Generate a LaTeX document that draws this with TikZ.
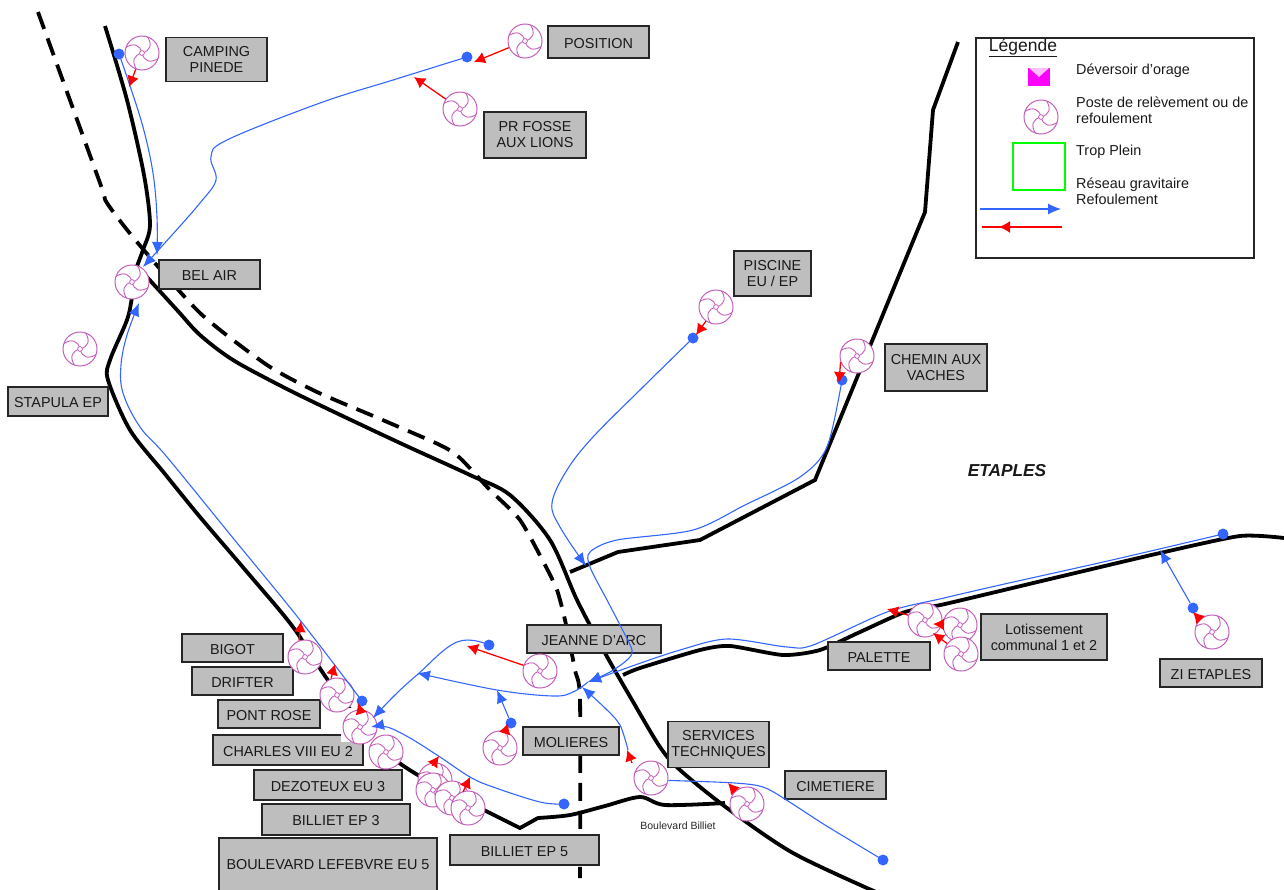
\documentclass[tikz,border=0pt]{standalone}
\usepackage{fontspec}
\setmainfont{Liberation Sans}
\usetikzlibrary{arrows.meta}
\definecolor{pumpcol}{RGB}{196,96,186}
\definecolor{refblue}{RGB}{51,102,255}
\definecolor{labgray}{RGB}{190,190,190}
\definecolor{devcol}{RGB}{255,0,255}
\tikzset{
  road/.style={line width=3.8pt,black},
  droad/.style={road,dash pattern=on 18pt off 10pt},
  lab/.style={draw=black!85,line width=1.2pt,fill=labgray,align=center,inner sep=0pt,text=black!90,
    font=\fontsize{14.4}{16}\selectfont},
  lab1/.style={lab,text height=12.5pt,text depth=0pt},
  pump/.style={circle,draw=pumpcol,line width=1pt,fill=white,inner sep=0pt,minimum size=34pt,
    path picture={
      \draw[pumpcol,line width=.9pt,shift={(path picture bounding box.center)}]
        (0,0) .. controls (-2,-8) and (-8,-11) .. (-17,-5)
        (0,0) .. controls (8,-2) and (11,-8) .. (5,-17)
        (0,0) .. controls (2,8) and (8,11) .. (17,5)
        (0,0) .. controls (-8,2) and (-11,8) .. (-5,17);
      \draw[pumpcol,line width=.8pt,fill=white,shift={(path picture bounding box.center)}] (0,0) circle (2.4);
    }},
  dot/.style={circle,fill=refblue,inner sep=0pt,minimum size=11pt},
  refo/.style={refblue,line width=1.1pt},
  refa/.style={refo,-{Latex[length=13pt,width=11pt]}},
  gravi/.style={red,line width=1.3pt,-{Latex[length=11pt,width=12pt]}},
  legtext/.style={anchor=west,align=left,inner sep=0pt,text=black!90,font=\fontsize{14.4}{16}\selectfont}
}
\begin{document}
\begin{tikzpicture}[x=1pt,y=-1pt]
\useasboundingbox (0,0) rectangle (1284,889);

\draw[road] plot[smooth,tension=.5] coordinates {(105,26) (127,100) (144,175) (150,225) (143,250) (136,270) (132,297) (127,320) (110,360) (108,380) (130,430) (165,474) (200,517) (247,572) (293,627) (330,683) (386,752) (435,785) (478,807) (520,828)} -- plot[smooth,tension=.5] coordinates {(538,818) (570,815) (605,806) (640,797) (665,805) (725,803)};
\draw[road] plot[smooth,tension=.5] coordinates {(136,265) (177,310) (200,335) (233,360) (283,387) (330,410) (400,443) (470,475) (510,495) (550,540) (577,600) (605,653) (632,700) (660,747) (680,770) (727,808) (793,853) (876,892)};
\draw[road] (958,42) -- (933,110) -- (925,212) -- (815,480) -- (700,540) -- (618,552) -- (570,572);
\draw[road] plot[smooth,tension=.4] coordinates {(623,675) (640,668) (700,650) (730,646) (783,655) (820,650) (860,632) (905,612) (945,604) (1050,579) (1160,553) (1240,536) (1284,538)};
\draw[droad] plot[smooth,tension=.4] coordinates {(38,12) (100,183) (107,203) (137,242) (200,313) (267,365) (317,392) (378,418) (440,445) (460,458) (490,490) (520,520) (545,565) (557,590) (565,620) (575,670) (580,700) (580,878)};

\node[lab,minimum width=101pt,minimum height=44pt] (lcamping) at (216.5,59.5) {CAMPING\\PINEDE};
\node[lab1,minimum width=101pt,minimum height=32pt] (lposition) at (598.5,42) {POSITION};
\node[lab,minimum width=102pt,minimum height=46pt] (lfosse) at (535,135) {PR FOSSE\\AUX LIONS};
\node[lab1,minimum width=101pt,minimum height=29pt] (lbelair) at (209.5,274.5) {BEL AIR};
\node[lab1,minimum width=100pt,minimum height=29pt] (lstapula) at (58,401.5) {STAPULA EP};
\node[lab,minimum width=77pt,minimum height=45pt] (lpiscine) at (772.5,273.5) {PISCINE\\EU / EP};
\node[lab,minimum width=102pt,minimum height=47pt] (lchemin) at (936,367.5) {CHEMIN AUX\\VACHES};
\node[lab1,minimum width=134pt,minimum height=28pt] (ljeanne) at (594,639) {JEANNE D'ARC};
\node[lab,minimum width=126pt,minimum height=46pt] (llotis) at (1044,637) {Lotissement\\communal 1 et 2};
\node[lab1,minimum width=102pt,minimum height=28pt] (lpalette) at (879,656) {PALETTE};
\node[lab1,minimum width=102pt,minimum height=28pt] (lzi) at (1211,673) {ZI ETAPLES};
\node[lab1,minimum width=101pt,minimum height=28pt] (lbigot) at (232.5,648) {BIGOT};
\node[lab1,minimum width=101pt,minimum height=28pt] (ldrifter) at (242.5,681) {DRIFTER};
\node[lab1,minimum width=102pt,minimum height=28pt] (lpont) at (269,714) {PONT ROSE};
\node[lab1,minimum width=150pt,minimum height=30pt] (lcharles) at (288,750) {CHARLES VIII EU 2};
\node[lab1,minimum width=148pt,minimum height=30pt] (ldezo) at (328,785) {DEZOTEUX EU 3};
\node[lab1,minimum width=148pt,minimum height=31pt] (lbill3) at (336,819.5) {BILLIET EP 3};
\node[lab,minimum width=218pt,minimum height=54pt] (lboul) at (328,865) {BOULEVARD LEFEBVRE EU 5};
\node[lab1,minimum width=96pt,minimum height=28pt] (lmol) at (571,741) {MOLIERES};
\node[lab,minimum width=101pt,minimum height=46pt] (lserv) at (718.5,744.5) {SERVICES\\TECHNIQUES};
\node[lab1,minimum width=101pt,minimum height=28pt] (lcim) at (835.5,785) {CIMETIERE};
\node[lab1,minimum width=149pt,minimum height=30pt] (lbill5) at (524.5,850) {BILLIET EP 5};

\node[font=\fontsize{17.3}{19}\selectfont\bfseries\itshape,text=black!90] (etaples) at (1007,471) {ETAPLES};
\node[font=\fontsize{10.5}{12}\selectfont,text=black!85] (boulbil) at (678,826) {Boulevard Billiet};

\node[fill=white,minimum width=38pt,minimum height=34pt,inner sep=0pt] (patch) at (360,725) {};

\node[pump] (pcamping) at (142,53) {};
\node[pump] (pposition) at (525,41) {};
\node[pump] (pfosse) at (460,109) {};
\node[pump] (pbelair) at (132,282) {};
\node[pump] (pstapula) at (80,349) {};
\node[pump] (ppiscine) at (716,307) {};
\node[pump] (pchemin) at (857,356) {};
\node[pump] (pjeanne) at (540,671) {};
\node[pump] (pmol) at (500,748) {};
\node[pump] (pbigot) at (305,657) {};
\node[pump] (pdrifter) at (337,695) {};
\node[pump] (ppont) at (360,727) {};
\node[pump] (pcharles) at (386,752) {};
\node[pump] (pdezo) at (435,780) {};
\node[pump] (pbill3) at (433,790) {};
\node[pump] (pboul) at (452,798) {};
\node[pump] (pbill5) at (468,808) {};
\node[pump] (pserv) at (651,778) {};
\node[pump] (pcim) at (747,804) {};
\node[pump] (ppalette) at (925,620) {};
\node[pump] (plot1) at (960,625) {};
\node[pump] (plot2) at (961,654) {};
\node[pump] (pzi) at (1212,632) {};

\node[dot] (dcamping) at (119,54) {};
\node[dot] (dposition) at (467,57) {};
\node[dot] (dpiscine) at (693,338) {};
\node[dot] (dchemin) at (842,380) {};
\node[dot] (dpalette) at (1223,534) {};
\node[dot] (dzi) at (1193,608) {};
\node[dot] (djeanne) at (489,645) {};
\node[dot] (dbigot) at (362,701) {};
\node[dot] (dmol) at (511,723) {};
\node[dot] (dbill) at (564,804) {};
\node[dot] (dcim) at (883,860) {};

\coordinate (tbel1) at (157,255);
\coordinate (tbel2) at (143,267);
\coordinate (tbel3) at (139,303);
\coordinate (tpont) at (373,718);
\coordinate (tjun1) at (586,566);
\coordinate (tjun2) at (588,682);
\coordinate (tjun3) at (582,687);
\coordinate (tleft) at (417,673);
\coordinate (tmol) at (497,690);
\coordinate (tzi) at (1160,550);
\coordinate (tchar) at (371,727);

\draw[refa] plot[smooth,tension=.6] coordinates {(dcamping) (128,80) (143,127) (153,173) (157,217) (tbel1)};
\draw[refa] plot[smooth,tension=.6] coordinates {(dposition) (393,80) (320,103) (227,140) (211,157) (216,180) (200,203) (172,235) (tbel2)};
\draw[refa] plot[smooth,tension=.6] coordinates {(dbigot) (300,620) (233,538) (167,457) (140,427) (123,393) (121,365) (127,335) (tbel3)};
\draw[refa] plot[smooth,tension=.7] coordinates {(djeanne) (457,642) (417,675) (395,695) (tpont)};
\draw[refa] plot[smooth,tension=.6] coordinates {(dpiscine) (643,387) (593,437) (567,470) (552,503) (560,527) (tjun1)};
\draw[refa] plot[smooth,tension=.5] coordinates {(dchemin) (827,447) (800,477) (745,505) (693,530) (617,540) (590,552) (590,567) (607,600) (620,625) (632,650) (627,660) (610,672) (tjun2)};
\draw[refa] plot[smooth,tension=.5] coordinates {(dpalette) (1112,560) (1000,585) (944,598) (887,612) (813,645) (787,647) (727,639) (680,650) (635,665) (tjun2)};
\draw[refa] plot[smooth,tension=.6] coordinates {(tjun2) (573,692) (553,696) (497,690) (tleft)};
\draw[refa] (dmol) -- (tmol);
\draw[refa] (dzi) -- (tzi);
\draw[refa] plot[smooth,tension=.5] coordinates {(628,750) (620,725) (605,708) (tjun3)};
\draw[refo] plot[smooth,tension=.4] coordinates {(dcim) (825,825) (768,789) (735,783) (pserv.-8)};
\draw[refa] plot[smooth,tension=.6] coordinates {(dbill) (540,802) (493,787) (470,777) (440,757) (410,738) (387,727) (tchar)};

\draw[gravi] (pcamping) -- (129,87);
\draw[gravi] (pposition) -- (474,62);
\draw[gravi] (pfosse) -- (414,77);
\draw[gravi] (ppiscine) -- (696,335);
\draw[gravi] (pchemin.200) -- (839,383);
\draw[gravi] (pjeanne) -- (467,646);
\draw[gravi] (pmol) -- (508,723);
\draw[gravi] (pbigot.110) -- (301,621);
\draw[gravi] (pdrifter.110) -- (335,664);
\draw[gravi] (ppont.90) -- (358,703);
\draw[gravi] (pdezo.100) ++(0,3) -- (439,756);
\draw[gravi] (463,792) -- (470,777);
\draw[gravi] (632,763) -- (627,750);
\draw[gravi] (pcim) -- (728,783);
\draw[gravi] (ppalette) -- (887,609);
\draw[gravi] (plot1) -- (933,624);
\draw[gravi] (plot2) -- (933,633);
\draw[gravi] (pzi) -- (1193,612);

\node[draw=black!85,line width=1.2pt,minimum width=278pt,minimum height=220pt,inner sep=0pt] (legend) at (1115,148) {};
\node[font=\fontsize{17.5}{19}\selectfont,text=black!90,inner sep=0pt] (legtitle) at (1023,47.5) {\underline{Légende}};
\fill[devcol] (1028,68) rectangle (1050,86);
\fill[devcol!25] (1029,68) -- (1049,68) -- (1039,77) -- cycle;
\node[legtext] (legdev) at (1076,71) {Déversoir d'orage};
\node[pump] (legpump) at (1041,117) {};
\node[legtext] (legposte) at (1076,110) {Poste de relèvement ou de\\refoulement};
\node[draw=green,line width=1.4pt,minimum width=52pt,minimum height=47pt,inner sep=0pt] (legtrop) at (1039,166.5) {};
\node[legtext] (legtp) at (1076,152) {Trop Plein};
\node[legtext] (legres) at (1076,191) {Réseau gravitaire\\Refoulement};
\coordinate (lb0) at (980,209);
\coordinate (lb1) at (1061,209);
\coordinate (lr0) at (1062,227);
\coordinate (lr1) at (982,227);
\coordinate (lr2) at (999,227);
\draw[refa] (lb0) -- (lb1);
\draw[gravi,-] (lr0) -- (lr1);
\draw[gravi] (lr0) -- (lr2);
\end{tikzpicture}
\end{document}
